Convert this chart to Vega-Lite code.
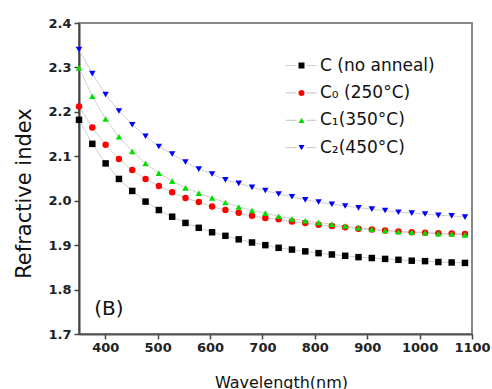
{
  "$schema": "https://vega.github.io/schema/vega-lite/v6.json",
  "width": 393,
  "height": 311,
  "autosize": {"type": "none"},
  "padding": {"left": 79, "top": 23, "right": 20, "bottom": 55},
  "background": "white",
  "datasets": {
    "ri": [
      {"s": "C (no anneal)", "w": 350, "n": 2.182}, {"s": "C (no anneal)", "w": 375.4, "n": 2.128}, {"s": "C (no anneal)", "w": 400.8, "n": 2.084}, {"s": "C (no anneal)", "w": 426.2, "n": 2.049}, {"s": "C (no anneal)", "w": 451.6, "n": 2.022}, {"s": "C (no anneal)", "w": 477, "n": 1.998}, {"s": "C (no anneal)", "w": 502.4, "n": 1.979}, {"s": "C (no anneal)", "w": 527.8, "n": 1.964}, {"s": "C (no anneal)", "w": 553.2, "n": 1.950}, {"s": "C (no anneal)", "w": 578.6, "n": 1.939},
      {"s": "C (no anneal)", "w": 604, "n": 1.929}, {"s": "C (no anneal)", "w": 629.4, "n": 1.921}, {"s": "C (no anneal)", "w": 654.8, "n": 1.913}, {"s": "C (no anneal)", "w": 680.2, "n": 1.906}, {"s": "C (no anneal)", "w": 705.6, "n": 1.900}, {"s": "C (no anneal)", "w": 731, "n": 1.894}, {"s": "C (no anneal)", "w": 756.4, "n": 1.890}, {"s": "C (no anneal)", "w": 781.8, "n": 1.886}, {"s": "C (no anneal)", "w": 807.2, "n": 1.882}, {"s": "C (no anneal)", "w": 832.6, "n": 1.879},
      {"s": "C (no anneal)", "w": 858, "n": 1.876}, {"s": "C (no anneal)", "w": 883.4, "n": 1.873}, {"s": "C (no anneal)", "w": 908.8, "n": 1.871}, {"s": "C (no anneal)", "w": 934.2, "n": 1.869}, {"s": "C (no anneal)", "w": 959.6, "n": 1.867}, {"s": "C (no anneal)", "w": 985, "n": 1.865}, {"s": "C (no anneal)", "w": 1010.4, "n": 1.864}, {"s": "C (no anneal)", "w": 1035.8, "n": 1.862}, {"s": "C (no anneal)", "w": 1061.2, "n": 1.861}, {"s": "C (no anneal)", "w": 1086.6, "n": 1.860},

      {"s": "C₀ (250°C)", "w": 350, "n": 2.212}, {"s": "C₀ (250°C)", "w": 375.4, "n": 2.165}, {"s": "C₀ (250°C)", "w": 400.8, "n": 2.126}, {"s": "C₀ (250°C)", "w": 426.2, "n": 2.094}, {"s": "C₀ (250°C)", "w": 451.6, "n": 2.069}, {"s": "C₀ (250°C)", "w": 477, "n": 2.049}, {"s": "C₀ (250°C)", "w": 502.4, "n": 2.033}, {"s": "C₀ (250°C)", "w": 527.8, "n": 2.019}, {"s": "C₀ (250°C)", "w": 553.2, "n": 2.006}, {"s": "C₀ (250°C)", "w": 578.6, "n": 1.997},
      {"s": "C₀ (250°C)", "w": 604, "n": 1.987}, {"s": "C₀ (250°C)", "w": 629.4, "n": 1.979}, {"s": "C₀ (250°C)", "w": 654.8, "n": 1.973}, {"s": "C₀ (250°C)", "w": 680.2, "n": 1.966}, {"s": "C₀ (250°C)", "w": 705.6, "n": 1.961}, {"s": "C₀ (250°C)", "w": 731, "n": 1.958}, {"s": "C₀ (250°C)", "w": 756.4, "n": 1.953}, {"s": "C₀ (250°C)", "w": 781.8, "n": 1.950}, {"s": "C₀ (250°C)", "w": 807.2, "n": 1.946}, {"s": "C₀ (250°C)", "w": 832.6, "n": 1.943},
      {"s": "C₀ (250°C)", "w": 858, "n": 1.940}, {"s": "C₀ (250°C)", "w": 883.4, "n": 1.937}, {"s": "C₀ (250°C)", "w": 908.8, "n": 1.935}, {"s": "C₀ (250°C)", "w": 934.2, "n": 1.933}, {"s": "C₀ (250°C)", "w": 959.6, "n": 1.931}, {"s": "C₀ (250°C)", "w": 985, "n": 1.929}, {"s": "C₀ (250°C)", "w": 1010.4, "n": 1.928}, {"s": "C₀ (250°C)", "w": 1035.8, "n": 1.927}, {"s": "C₀ (250°C)", "w": 1061.2, "n": 1.926}, {"s": "C₀ (250°C)", "w": 1086.6, "n": 1.925},

      {"s": "C₁(350°C)", "w": 350, "n": 2.299}, {"s": "C₁(350°C)", "w": 375.4, "n": 2.235}, {"s": "C₁(350°C)", "w": 400.8, "n": 2.184}, {"s": "C₁(350°C)", "w": 426.2, "n": 2.144}, {"s": "C₁(350°C)", "w": 451.6, "n": 2.111}, {"s": "C₁(350°C)", "w": 477, "n": 2.084}, {"s": "C₁(350°C)", "w": 502.4, "n": 2.062}, {"s": "C₁(350°C)", "w": 527.8, "n": 2.044}, {"s": "C₁(350°C)", "w": 553.2, "n": 2.029}, {"s": "C₁(350°C)", "w": 578.6, "n": 2.017},
      {"s": "C₁(350°C)", "w": 604, "n": 2.006}, {"s": "C₁(350°C)", "w": 629.4, "n": 1.996}, {"s": "C₁(350°C)", "w": 654.8, "n": 1.986}, {"s": "C₁(350°C)", "w": 680.2, "n": 1.978}, {"s": "C₁(350°C)", "w": 705.6, "n": 1.972}, {"s": "C₁(350°C)", "w": 731, "n": 1.965}, {"s": "C₁(350°C)", "w": 756.4, "n": 1.959}, {"s": "C₁(350°C)", "w": 781.8, "n": 1.955}, {"s": "C₁(350°C)", "w": 807.2, "n": 1.951}, {"s": "C₁(350°C)", "w": 832.6, "n": 1.947},
      {"s": "C₁(350°C)", "w": 858, "n": 1.943}, {"s": "C₁(350°C)", "w": 883.4, "n": 1.939}, {"s": "C₁(350°C)", "w": 908.8, "n": 1.936}, {"s": "C₁(350°C)", "w": 934.2, "n": 1.933}, {"s": "C₁(350°C)", "w": 959.6, "n": 1.930}, {"s": "C₁(350°C)", "w": 985, "n": 1.929}, {"s": "C₁(350°C)", "w": 1010.4, "n": 1.928}, {"s": "C₁(350°C)", "w": 1035.8, "n": 1.926}, {"s": "C₁(350°C)", "w": 1061.2, "n": 1.925}, {"s": "C₁(350°C)", "w": 1086.6, "n": 1.923},

      {"s": "C₂(450°C)", "w": 350, "n": 2.340}, {"s": "C₂(450°C)", "w": 375.4, "n": 2.286}, {"s": "C₂(450°C)", "w": 400.8, "n": 2.239}, {"s": "C₂(450°C)", "w": 426.2, "n": 2.202}, {"s": "C₂(450°C)", "w": 451.6, "n": 2.171}, {"s": "C₂(450°C)", "w": 477, "n": 2.145}, {"s": "C₂(450°C)", "w": 502.4, "n": 2.122}, {"s": "C₂(450°C)", "w": 527.8, "n": 2.105}, {"s": "C₂(450°C)", "w": 553.2, "n": 2.087}, {"s": "C₂(450°C)", "w": 578.6, "n": 2.071},
      {"s": "C₂(450°C)", "w": 604, "n": 2.060}, {"s": "C₂(450°C)", "w": 629.4, "n": 2.047}, {"s": "C₂(450°C)", "w": 654.8, "n": 2.039}, {"s": "C₂(450°C)", "w": 680.2, "n": 2.030}, {"s": "C₂(450°C)", "w": 705.6, "n": 2.023}, {"s": "C₂(450°C)", "w": 731, "n": 2.015}, {"s": "C₂(450°C)", "w": 756.4, "n": 2.009}, {"s": "C₂(450°C)", "w": 781.8, "n": 2.002}, {"s": "C₂(450°C)", "w": 807.2, "n": 1.997}, {"s": "C₂(450°C)", "w": 832.6, "n": 1.992},
      {"s": "C₂(450°C)", "w": 858, "n": 1.988}, {"s": "C₂(450°C)", "w": 883.4, "n": 1.984}, {"s": "C₂(450°C)", "w": 908.8, "n": 1.981}, {"s": "C₂(450°C)", "w": 934.2, "n": 1.978}, {"s": "C₂(450°C)", "w": 959.6, "n": 1.974}, {"s": "C₂(450°C)", "w": 985, "n": 1.972}, {"s": "C₂(450°C)", "w": 1010.4, "n": 1.970}, {"s": "C₂(450°C)", "w": 1035.8, "n": 1.967}, {"s": "C₂(450°C)", "w": 1061.2, "n": 1.966}, {"s": "C₂(450°C)", "w": 1086.6, "n": 1.963}
    ]
  },
  "layer": [
    {
      "data": {"name": "ri"},
      "mark": {"type": "line", "strokeWidth": 1, "clip": true},
      "encoding": {
        "x": {
          "field": "w", "type": "quantitative",
          "scale": {"domain": [350, 1100], "nice": false, "zero": false},
          "axis": {
            "values": [400, 450, 500, 550, 600, 650, 700, 750, 800, 850, 900, 950, 1000, 1050, 1100],
            "labelExpr": "datum.value % 100 == 0 ? format(datum.value, 'd') : ''",
            "labelOverlap": false, "labelFlush": false,
            "labelFont": "DejaVu Sans", "labelFontWeight": "bold", "labelFontSize": 13, "labelColor": "#222", "labelPadding": 2,
            "tickSize": 5, "tickColor": "#444", "tickWidth": 1.5,
            "domainColor": "#555", "domainWidth": 2,
            "grid": false,
            "title": "Wavelength(nm)",
            "titleFont": "DejaVu Sans", "titleFontSize": 16, "titleFontWeight": "normal", "titleColor": "#111",
            "titleX": 202, "titleY": 53, "titleBaseline": "alphabetic",
            "encode": {"ticks": {"update": {"y2": {"signal": "datum.value % 100 == 0 ? 5 : 2.5"}}}}
          }
        },
        "y": {
          "field": "n", "type": "quantitative",
          "scale": {"domain": [1.7, 2.4], "nice": false, "zero": false},
          "axis": {
            "values": [1.7, 1.75, 1.8, 1.85, 1.9, 1.95, 2.0, 2.05, 2.1, 2.15, 2.2, 2.25, 2.3, 2.35, 2.4],
            "labelExpr": "round(datum.value * 100) % 10 == 0 ? format(datum.value, '.1f') : ''",
            "labelOverlap": false, "labelFlush": false,
            "labelFont": "DejaVu Sans", "labelFontWeight": "bold", "labelFontSize": 13, "labelColor": "#222", "labelPadding": 3,
            "tickSize": 5, "tickColor": "#444", "tickWidth": 1.5,
            "domainColor": "#444", "domainWidth": 2,
            "grid": false,
            "title": "Refractive index",
            "titleFont": "DejaVu Sans", "titleFontSize": 21, "titleFontWeight": "normal", "titleColor": "#111",
            "titleX": -55, "titleY": 170, "titleAngle": 270, "titleAlign": "center", "titleBaseline": "middle",
            "encode": {"ticks": {"update": {"x2": {"signal": "round(datum.value * 100) % 10 == 0 ? -5 : -2.5"}}}}
          }
        },
        "color": {
          "field": "s", "type": "nominal",
          "scale": {"domain": ["C (no anneal)", "C₀ (250°C)", "C₁(350°C)", "C₂(450°C)"], "range": ["#d0d0d0", "#d0d0d0", "#d0d0d0", "#d0d0d0"]},
          "legend": {
            "title": null, "orient": "none", "legendX": 214, "legendY": 34,
            "symbolType": "M-5.3,0H-1.7M1.7,0H5",
            "symbolSize": 36, "symbolStrokeWidth": 1, "symbolStrokeColor": "#999999",
            "labelFont": "DejaVu Sans", "labelFontSize": 17, "labelColor": "#111", "labelOffset": 10,
            "rowPadding": 9.4,
            "encode": {"symbols": {"update": {"stroke": {"value": "#999999"}, "strokeWidth": {"value": 1.2}}}}
          }
        }
      }
    },
    {
      "data": {"name": "ri"},
      "mark": {"type": "point", "filled": true, "opacity": 1, "size": 42},
      "encoding": {
        "x": {"field": "w", "type": "quantitative"},
        "y": {"field": "n", "type": "quantitative"},
        "color": {
          "field": "s", "type": "nominal",
          "scale": {"domain": ["C (no anneal)", "C₀ (250°C)", "C₁(350°C)", "C₂(450°C)"], "range": ["#000000", "#ff0000", "#00e000", "#0000ff"]},
          "legend": {
            "title": null, "orient": "none", "legendX": 214, "legendY": 34,
            "symbolSize": 36, "symbolStrokeWidth": 1,
            "labelFont": "DejaVu Sans", "labelFontSize": 17, "labelOpacity": 0, "labelOffset": 10,
            "rowPadding": 9.4,
            "encode": {"symbols": {"update": {"size": {"value": 26}}}}
          }
        },
        "shape": {
          "field": "s", "type": "nominal",
          "scale": {"domain": ["C (no anneal)", "C₀ (250°C)", "C₁(350°C)", "C₂(450°C)"], "range": ["square", "circle", "triangle-up", "triangle-down"]},
          "legend": {
            "title": null, "orient": "none", "legendX": 214, "legendY": 34,
            "symbolSize": 36, "symbolStrokeWidth": 1,
            "labelFont": "DejaVu Sans", "labelFontSize": 17, "labelOpacity": 0, "labelOffset": 10,
            "rowPadding": 9.4,
            "encode": {"symbols": {"update": {"size": {"value": 26}}}}
          }
        }
      }
    },
    {
      "data": {"values": [{"label": "(B)"}]},
      "mark": {"type": "text", "font": "DejaVu Sans", "fontSize": 20, "color": "#111", "align": "center", "baseline": "middle"},
      "encoding": {
        "x": {"datum": 407},
        "y": {"datum": 1.756},
        "text": {"field": "label", "type": "nominal"}
      }
    }
  ],
  "resolve": {
    "scale": {"color": "independent", "shape": "independent"},
    "legend": {"color": "independent", "shape": "independent"}
  },
  "config": {
    "view": {"stroke": "#888", "strokeWidth": 2}
  }
}
